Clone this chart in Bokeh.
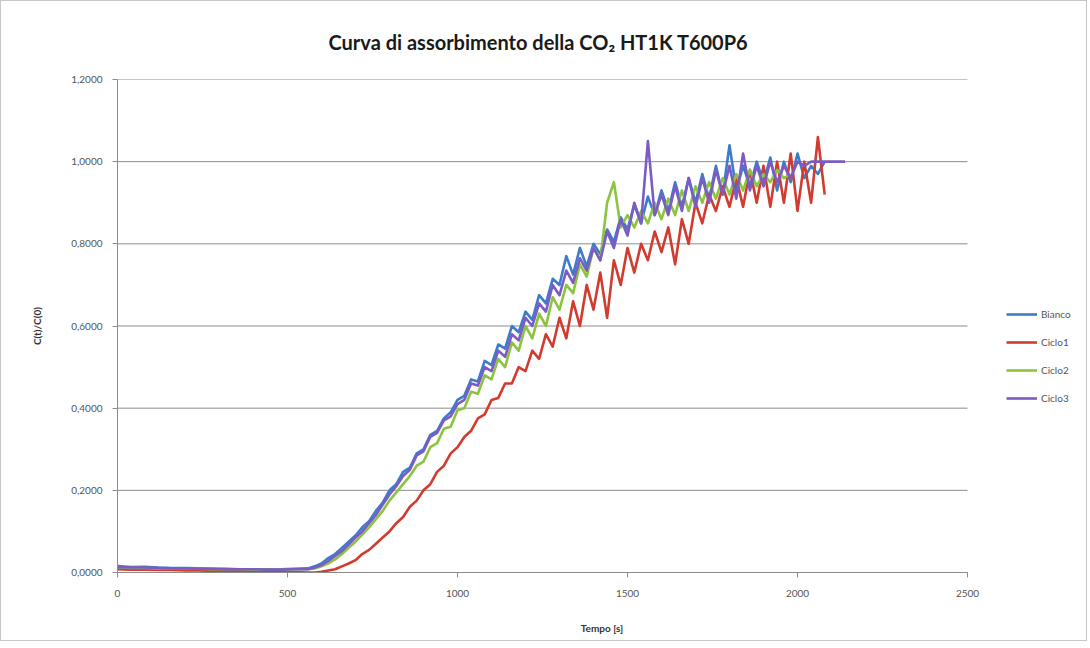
from bokeh.plotting import figure
from bokeh.models import Legend, LegendItem, FixedTicker
from bokeh.embed import file_html
from bokeh.resources import INLINE

# ---------------- data ----------------
t_flat = [0, 40, 80, 120, 160, 200, 240, 280, 320, 360, 400, 440, 480, 520]
t_rise = [560, 580, 600, 620, 640, 660, 680, 700, 720, 740, 760, 780, 800, 820, 840, 860,
          880, 900, 920, 940, 960, 980, 1000, 1020, 1040, 1060, 1080, 1100, 1120, 1140,
          1160, 1180, 1200, 1220, 1240, 1260, 1280, 1300, 1320, 1340, 1360, 1380, 1400,
          1420, 1440, 1460, 1480, 1500, 1520, 1540, 1560, 1580, 1600, 1620, 1640, 1660,
          1680, 1700, 1720, 1740, 1760, 1780, 1800, 1820, 1840, 1860, 1880, 1900, 1920,
          1940, 1960, 1980, 2000, 2020, 2040, 2060, 2080]

bianco_flat = [0.016, 0.013, 0.014, 0.012, 0.011, 0.011, 0.010, 0.009, 0.009, 0.008, 0.008, 0.008, 0.008, 0.009]
bianco_rise = [0.010, 0.015, 0.022, 0.035, 0.045, 0.060, 0.075, 0.090, 0.110, 0.125, 0.150, 0.170,
               0.200, 0.215, 0.245, 0.255, 0.290, 0.300, 0.335, 0.345, 0.375, 0.390, 0.420, 0.430,
               0.470, 0.465, 0.515, 0.505, 0.555, 0.545, 0.600, 0.585, 0.635, 0.615, 0.675, 0.655,
               0.715, 0.700, 0.770, 0.725, 0.790, 0.745, 0.800, 0.775, 0.835, 0.805, 0.865, 0.835,
               0.895, 0.850, 0.915, 0.870, 0.930, 0.880, 0.950, 0.890, 0.960, 0.900, 0.970, 0.910,
               0.990, 0.920, 1.040, 0.930, 0.990, 0.940, 1.000, 0.950, 1.010, 0.930, 1.000, 0.950,
               1.020, 0.960, 0.990, 0.970, 1.000]

ciclo1_flat = [0.008, 0.007, 0.007, 0.006, 0.006, 0.005, 0.005, 0.004, 0.004, 0.003, 0.003, 0.002, 0.002, 0.001]
ciclo1_rise = [0.000, 0.000, 0.002, 0.005, 0.008, 0.015, 0.022, 0.030, 0.045, 0.055, 0.070, 0.085,
               0.100, 0.120, 0.135, 0.160, 0.175, 0.200, 0.215, 0.245, 0.260, 0.290, 0.305, 0.330,
               0.345, 0.375, 0.385, 0.420, 0.425, 0.460, 0.460, 0.500, 0.490, 0.540, 0.520, 0.580,
               0.550, 0.620, 0.570, 0.660, 0.600, 0.700, 0.640, 0.730, 0.620, 0.760, 0.700, 0.790,
               0.730, 0.800, 0.760, 0.830, 0.780, 0.840, 0.750, 0.860, 0.800, 0.900, 0.850, 0.920,
               0.880, 0.940, 0.890, 0.960, 0.890, 0.980, 0.900, 0.990, 0.890, 1.000, 0.900, 1.020,
               0.880, 1.000, 0.900, 1.060, 0.920]

ciclo2_flat = [0.012, 0.011, 0.011, 0.010, 0.010, 0.009, 0.009, 0.008, 0.008, 0.008, 0.007, 0.007, 0.007, 0.008]
ciclo2_rise = [0.008, 0.010, 0.015, 0.022, 0.032, 0.045, 0.060, 0.075, 0.092, 0.110, 0.130, 0.150,
               0.175, 0.195, 0.215, 0.235, 0.260, 0.270, 0.305, 0.315, 0.350, 0.355, 0.395, 0.400,
               0.440, 0.435, 0.480, 0.470, 0.520, 0.500, 0.560, 0.540, 0.600, 0.570, 0.630, 0.600,
               0.670, 0.640, 0.700, 0.680, 0.750, 0.720, 0.790, 0.760, 0.900, 0.950, 0.840, 0.870,
               0.840, 0.880, 0.850, 0.900, 0.860, 0.910, 0.870, 0.930, 0.880, 0.940, 0.900, 0.950,
               0.910, 0.960, 0.920, 0.970, 0.930, 0.980, 0.940, 0.970, 0.950, 0.980, 0.960, 0.970]

ciclo3_flat = [0.013, 0.012, 0.012, 0.011, 0.010, 0.010, 0.009, 0.009, 0.008, 0.008, 0.008, 0.007, 0.007, 0.008]
ciclo3_rise = [0.008, 0.012, 0.018, 0.028, 0.040, 0.052, 0.068, 0.085, 0.100, 0.120, 0.140, 0.165,
               0.190, 0.210, 0.235, 0.250, 0.285, 0.295, 0.330, 0.340, 0.370, 0.380, 0.410, 0.420,
               0.460, 0.455, 0.500, 0.490, 0.540, 0.525, 0.580, 0.565, 0.620, 0.600, 0.655, 0.635,
               0.700, 0.675, 0.735, 0.705, 0.765, 0.735, 0.790, 0.760, 0.830, 0.790, 0.860, 0.820,
               0.900, 0.850, 1.050, 0.870, 0.920, 0.870, 0.940, 0.880, 0.960, 0.890, 0.960, 0.900,
               0.980, 0.920, 0.990, 0.910, 1.020, 0.930, 0.990, 0.940, 1.000, 0.950, 0.990, 0.960,
               1.000, 0.990, 1.000, 1.000, 1.000]
ciclo3_tail_t = [2140]
ciclo3_tail_v = [1.000]

series_names = ["Bianco", "Ciclo1", "Ciclo2", "Ciclo3"]
x_ticks = [0, 500, 1000, 1500, 2000, 2500]
y_ticks = [0.0, 0.2, 0.4, 0.6, 0.8, 1.0, 1.2]
y_tick_labels = ["0,0000", "0,2000", "0,4000", "0,6000", "0,8000", "1,0000", "1,2000"]

# ---------------- figure ----------------
# The data area spans 0..2500 over 850 px; the frame is extended to the right
# by the legend area (119 px) so that the legend is drawn inside the frame.
plot_px, legend_px = 850, 119
x_end = x_ticks[-1] * (plot_px + legend_px) / plot_px

p = figure(frame_width=plot_px + legend_px, frame_height=493, output_backend="svg",
           toolbar_location=None, x_range=(0, x_end), y_range=(0, 1.2),
           min_border_left=116, min_border_right=0, min_border_top=78, min_border_bottom=68)
p.styles = {"border": "1px solid #c8c8c8"}
p.outline_line_color = None
p.background_fill_color = "white"
p.border_fill_color = "white"

p.title.text = "Curva di assorbimento della CO\u2082 HT1K T600P6"
p.title.align = "left"
p.title.offset = 211
p.title.text_font = "Lato"
p.title.text_font_style = "bold"
p.title.text_font_size = "20px"
p.title.text_color = "#1a1a1a"
p.title.standoff = 52

# horizontal gridlines limited to the 0..2500 data area
p.xgrid.grid_line_color = None
p.ygrid.grid_line_color = None
p.segment(x0=[x_ticks[0]] * len(y_ticks), y0=y_ticks, x1=[x_ticks[-1]] * len(y_ticks), y1=y_ticks,
          line_color="#8c8c8c", line_width=1)

colors = ["#3d7cc9", "#d13b30", "#8cc43f", "#7b5bc4"]
xs = [t_flat + t_rise, t_flat + t_rise, t_flat + t_rise[:len(ciclo2_rise)],
      t_flat + t_rise + ciclo3_tail_t]
ys = [bianco_flat + bianco_rise, ciclo1_flat + ciclo1_rise, ciclo2_flat + ciclo2_rise,
      ciclo3_flat + ciclo3_rise + ciclo3_tail_v]

renderers = []
for x, y, c in zip(xs, ys, colors):
    r = p.line(x, y, line_color=c, line_width=2.6, line_join="round")
    renderers.append(r)

# axes
p.xaxis.ticker = FixedTicker(ticks=x_ticks)
p.xaxis.bounds = (x_ticks[0], x_ticks[-1])
p.yaxis.ticker = FixedTicker(ticks=y_ticks)
p.yaxis.major_label_overrides = {t: l for t, l in zip(y_ticks, y_tick_labels)}
p.xaxis.minor_tick_line_color = None
p.yaxis.minor_tick_line_color = None
for ax in (p.xaxis, p.yaxis):
    ax.axis_line_color = "#8c8c8c"
    ax.major_tick_line_color = "#8c8c8c"
    ax.major_tick_in = 0
    ax.major_tick_out = 5
    ax.major_label_text_font = "Lato"
    ax.major_label_text_font_size = "10px"
    ax.major_label_text_color = "#555555"
    ax.axis_label_text_font = "Lato"
    ax.axis_label_text_font_style = "bold"
    ax.axis_label_text_font_size = "10px"
    ax.axis_label_text_color = "#333333"
p.xaxis.major_label_standoff = 12
p.yaxis.major_label_standoff = 10
p.xaxis.axis_label = "Tempo [s]"
p.yaxis.axis_label = "C(t)/C(0)"
p.xaxis.axis_label_standoff = 22
p.yaxis.axis_label_standoff = 25

legend = Legend(items=[LegendItem(label=n, renderers=[r]) for n, r in zip(series_names, renderers)],
                location=(889, 164), orientation="vertical",
                border_line_color=None, background_fill_alpha=0,
                padding=0, spacing=8, glyph_height=20, glyph_width=31,
                label_standoff=4, label_text_font="Lato", label_text_font_size="10px",
                label_text_color="#555555", margin=0)
p.add_layout(legend, "center")

open("out.html", "w").write(file_html(p, INLINE))
